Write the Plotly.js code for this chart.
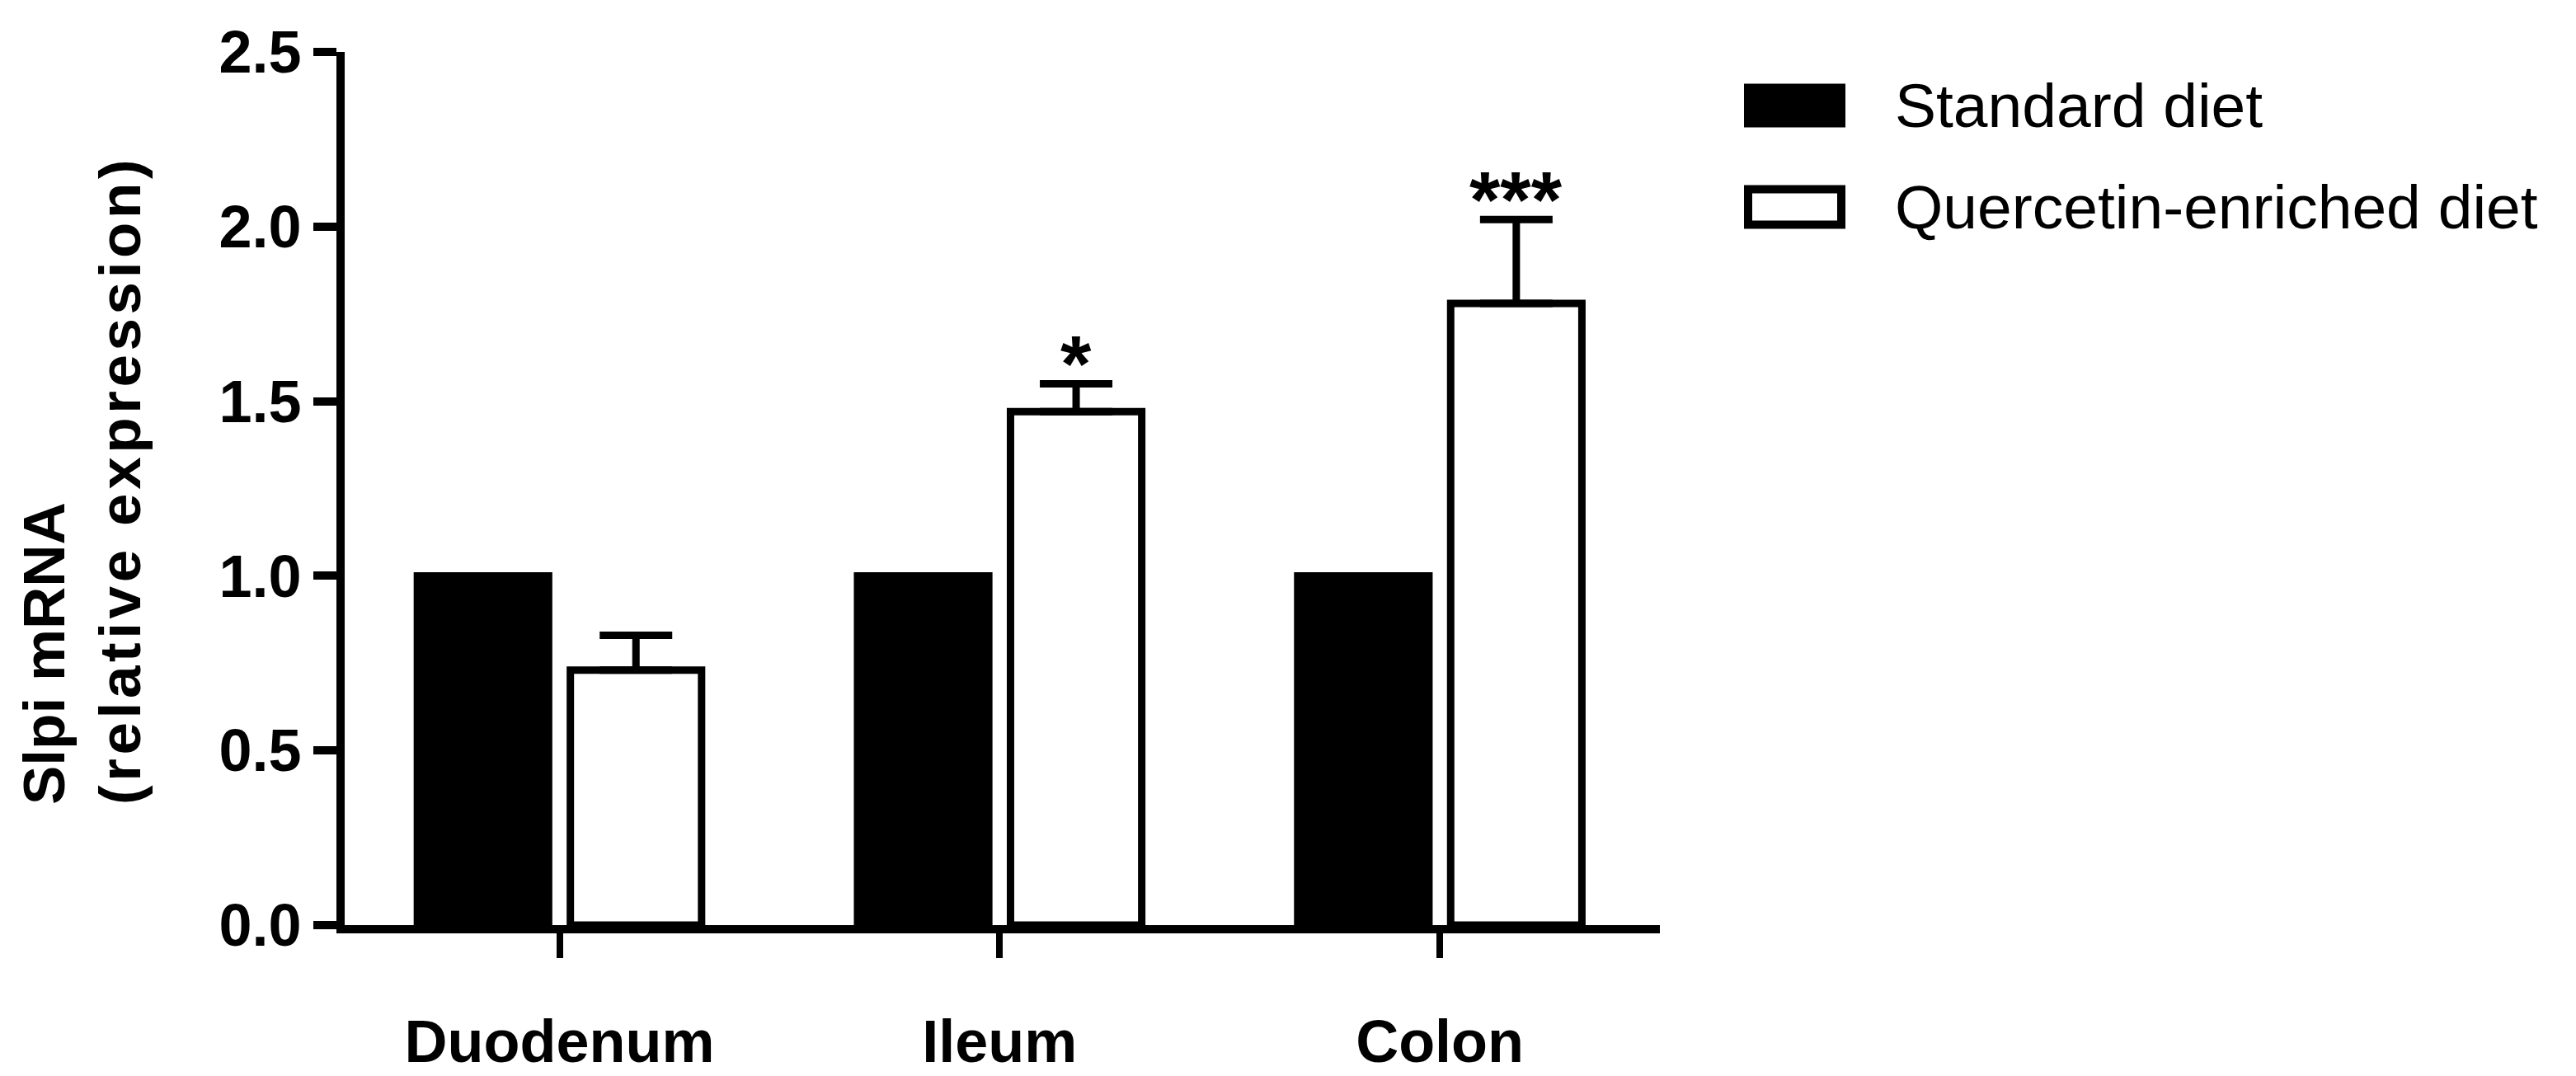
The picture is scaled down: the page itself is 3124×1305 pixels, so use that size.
<!DOCTYPE html>
<html>
<head>
<meta charset="utf-8">
<script src="https://cdn.plot.ly/plotly-3.0.1.min.js"></script>
<style>
  html, body { margin: 0; padding: 0; background: #fff; }
  #chart { width: 3124px; height: 1305px; }
</style>
</head>
<body>
<div id="chart"></div>
<script>
// ---- data ----
const categories = ['Duodenum', 'Ileum', 'Colon'];
const seriesNames = ['Standard diet', 'Quercetin-enriched diet'];
const standardDiet = [1.0, 1.0, 1.0];
const quercetinDiet = [0.73, 1.47, 1.78];
const quercetinSem = [0.10, 0.08, 0.24];
const significance = ['', '*', '***'];
const yTicks = [0, 0.5, 1.0, 1.5, 2.0, 2.5];

// ---- page geometry ----
const W = 3124, H = 1305;
const M = { l: 418, r: 1111, t: 63, b: 183 };
const plotW = W - M.l - M.r;
const plotH = H - M.t - M.b;
const toPaperX = px => (px - M.l) / plotW;
const toPaperY = py => (H - M.b - py) / plotH;

const FONT = 'Arial, "Liberation Sans", sans-serif';
const BARGAP = 0.305, BARGROUPGAP = 0.142;
// centre of the second bar inside each group, in category units
const slot = (1 - BARGAP) / 2;
const secondOffset = slot / 2;

const trazas = [
    {
        type: 'bar',
        name: seriesNames[0],
        x: categories,
        y: standardDiet,
        marker: { color: '#000000', line: { color: '#000000', width: 9 } },
        showlegend: false
    },
    {
        type: 'bar',
        name: seriesNames[1],
        x: categories,
        y: quercetinDiet,
        marker: { color: '#ffffff', line: { color: '#000000', width: 9 } },
        error_y: {
            type: 'data',
            symmetric: false,
            array: quercetinSem,
            arrayminus: quercetinSem.map(() => 0),
            color: '#000000',
            thickness: 9,
            width: 44
        },
        showlegend: false
    }
];

// significance stars above the error bars
const annotations = [];
significance.forEach((s, i) => {
    if (!s) return;
    annotations.push({
        xref: 'x', yref: 'y',
        x: i + secondOffset,
        y: quercetinDiet[i] + quercetinSem[i],
        text: s,
        showarrow: false,
        xanchor: 'center', yanchor: 'bottom',
        yshift: -31,
        font: { family: FONT, size: 96, color: '#000', weight: 'bold' }
    });
});

// y axis title, two lines aligned at the bottom
annotations.push({
    xref: 'paper', yref: 'paper',
    x: toPaperX(12), y: toPaperY(978),
    xanchor: 'left', yanchor: 'bottom',
    textangle: -90,
    align: 'left',
    showarrow: false,
    text: 'Slpi mRNA<br><span style="letter-spacing:4.6px">(relative expression)</span>',
    font: { family: FONT, size: 71, color: '#000', weight: 'bold' }
});

// legend drawn by hand (big swatches)
const legendRows = [128, 251];
const swatchFill = ['#000000', '#ffffff'];
const shapes = [];
legendRows.forEach((cy, i) => {
    shapes.push({
        type: 'rect', xref: 'paper', yref: 'paper',
        x0: toPaperX(2120), x1: toPaperX(2233),
        y0: toPaperY(cy - 21.5), y1: toPaperY(cy + 21.5),
        fillcolor: swatchFill[i],
        line: { color: '#000000', width: 10 }
    });
    annotations.push({
        xref: 'paper', yref: 'paper',
        x: toPaperX(2296), y: toPaperY(cy),
        xanchor: 'left', yanchor: 'middle',
        showarrow: false,
        text: seriesNames[i],
        font: { family: FONT, size: 75, color: '#000' }
    });
});

const layout = {
    width: W, height: H,
    autosize: false,
    margin: { l: M.l, r: M.r, t: M.t, b: M.b, pad: 0 },
    paper_bgcolor: '#ffffff',
    plot_bgcolor: '#ffffff',
    font: { family: FONT, color: '#000000' },
    showlegend: false,
    hovermode: false,
    barmode: 'group',
    bargap: BARGAP,
    bargroupgap: BARGROUPGAP,
    xaxis: {
        type: 'category',
        range: [-0.488, 2.5],
        showline: true, linecolor: '#000', linewidth: 10,
        ticks: 'outside', ticklen: 30, tickwidth: 8, tickcolor: '#000',
        showgrid: false, zeroline: false,
        ticklabelstandoff: 40,
        tickfont: { family: FONT, size: 72, color: '#000', weight: 'bold' }
    },
    yaxis: {
        range: [0, 2.5],
        tickvals: yTicks,
        tickformat: '.1f',
        showline: true, linecolor: '#000', linewidth: 10,
        ticks: 'outside', ticklen: 28, tickwidth: 10, tickcolor: '#000',
        showgrid: false, zeroline: false,
        tickfont: { family: FONT, size: 72, color: '#000', weight: 'bold' }
    },
    shapes: shapes,
    annotations: annotations
};

Plotly.newPlot('chart', trazas, layout, { displayModeBar: false, staticPlot: true });
</script>
</body>
</html>
